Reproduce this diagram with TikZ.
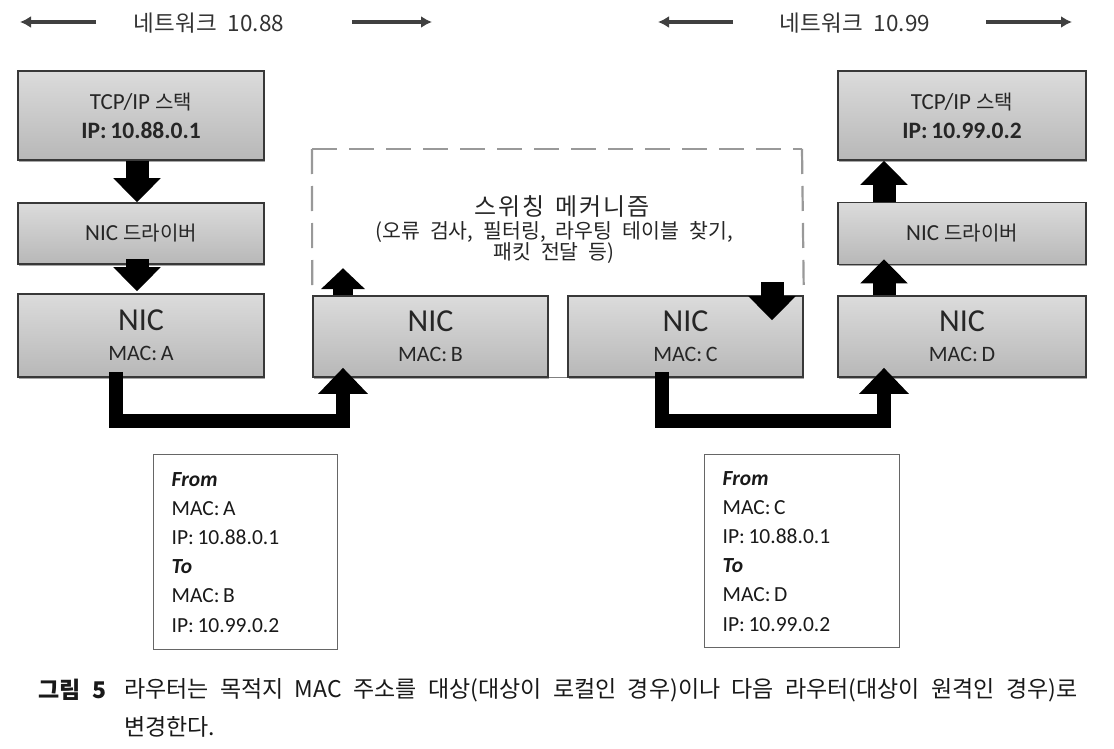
\documentclass[tikz,border=0pt]{standalone}
\usepackage{fontspec}
\setmainfont{Carlito}
\newfontfamily\kr{Noto Sans CJK KR}
\newfontfamily\krw[WordSpace=2.2]{Noto Sans CJK KR}
\newfontfamily\krt[LetterSpace=8,WordSpace=1.5]{Noto Sans CJK KR}
\usetikzlibrary{arrows.meta,calc,shadows}
\tikzset{
  gbox/.style={draw=black!78, line width=1.6pt, top color=black!14, bottom color=black!28,
    inner sep=0pt, align=center, text=black!85,
    drop shadow={shadow xshift=1.2pt, shadow yshift=-1.6pt, opacity=0.35, fill=black}},
  stackbox/.style={gbox, font=\fontsize{23}{29}\selectfont},
  nicbox/.style={gbox, font=\fontsize{22}{30}\selectfont},
  infobox/.style={draw=black!60, line width=1.4pt, fill=white, anchor=north west,
    inner xsep=18pt, inner ysep=0pt, align=left, text=black!90,
    font=\fontsize{21.5}{29.2}\selectfont},
  fatarrow/.style={black, line width=23pt, -{Triangle[width=46pt,length=24pt]}},
  smallarrow/.style={black, line width=20pt, -{Triangle[width=43pt,length=21pt]}},
  elbowarrow/.style={black, line width=14pt, line join=miter, -{Triangle[width=48pt,length=26pt]}},
  hdrarrow/.style={black!75, line width=4pt, -{Latex[length=11pt,width=12pt]}},
  dashline/.style={black!40, line width=2.2pt, dash pattern=on 25pt off 12pt},
  hdrtext/.style={text=black!80, font=\kr\fontsize{22.5}{26}\selectfont},
  captext/.style={anchor=west, inner sep=0pt, text=black!90, font=\kr\fontsize{23}{28}\selectfont},
}
\begin{document}
\begin{tikzpicture}[x=1pt,y=-1pt]
\useasboundingbox (0,0) rectangle (1114,749);
\fill[white] (0,0) rectangle (1114,749);

% header
\node[hdrtext] (net1) at (209,23) {네트워크 10.88};
\node[hdrtext] (net2) at (855,23) {네트워크 10.99};
\coordinate (h1a) at (96,22);  \coordinate (h1b) at (20,22);
\coordinate (h2a) at (352,22); \coordinate (h2b) at (432,22);
\coordinate (h3a) at (733,22); \coordinate (h3b) at (658,22);
\coordinate (h4a) at (986,22); \coordinate (h4b) at (1072,22);
\draw[hdrarrow] (h1a) -- (h1b);
\draw[hdrarrow] (h2a) -- (h2b);
\draw[hdrarrow] (h3a) -- (h3b);
\draw[hdrarrow] (h4a) -- (h4b);

% dashed switching area
\coordinate (dTL) at (312,149);
\coordinate (dTR) at (802,149);

% boxes
\node[stackbox, minimum width=246pt, minimum height=89pt] (tcpL) at (141,115.5)
  {TCP/IP {\kr\fontsize{20}{22}\selectfont 스택}\\
   {\fontsize{23.5}{29}\selectfont\bfseries IP:\,10.88.0.1}};
\node[stackbox, minimum width=246pt, minimum height=61pt] (drvL) at (141,233.5)
  {NIC {\kr\fontsize{20}{22}\selectfont 드라이버}};
\node[nicbox, minimum width=246pt, minimum height=83pt] (nicA) at (141,335.5)
  {{\fontsize{32}{32}\selectfont NIC}\\ MAC:\,A};
\node[nicbox, minimum width=235pt, minimum height=81pt] (nicB) at (430.5,336.5)
  {{\fontsize{32}{32}\selectfont NIC}\\ MAC:\,B};
\node[nicbox, minimum width=235pt, minimum height=81pt] (nicC) at (685.5,336.5)
  {{\fontsize{32}{32}\selectfont NIC}\\ MAC:\,C};
\node[nicbox, minimum width=248pt, minimum height=81pt] (nicD) at (962,336.5)
  {{\fontsize{32}{32}\selectfont NIC}\\ MAC:\,D};
\node[stackbox, minimum width=248pt, minimum height=62pt] (drvR) at (962,233.5)
  {NIC {\kr\fontsize{20}{22}\selectfont 드라이버}};
\node[stackbox, minimum width=248pt, minimum height=89pt] (tcpR) at (962,115.5)
  {TCP/IP {\kr\fontsize{20}{22}\selectfont 스택}\\
   {\fontsize{23.5}{29}\selectfont\bfseries IP:\,10.99.0.2}};

\draw[dashline] (dTL) -- (dTR);
\draw[dashline] (dTL) -- (nicB.north west);
\draw[dashline] (dTR) -- (nicC.north east);
\draw[black!50, line width=1pt] (nicB.south east) -- (nicC.south west);

\node[text=black!85, font=\krt\fontsize{24}{26}\selectfont] (swt) at (562,207) {스위칭 메커니즘};
\node[text=black!85, align=center, font=\krw\fontsize{20.5}{21}\selectfont] (swd) at (554,242)
  {(오류 검사, 필터링, 라우팅 테이블 찾기,\\ 패킷 전달 등)};

% arrows
\coordinate (xl) at (137,0);
\coordinate (xr) at (884,0);
\coordinate (xa) at (116,0);
\coordinate (xb) at (343,0);
\coordinate (xc) at (662,0);
\coordinate (xd) at (772,0);
\draw[fatarrow] (tcpL.south -| xl) -- (drvL.north -| xl);
\draw[fatarrow] ($(drvL.south -| xl)+(0,-6)$) -- ($(nicA.north -| xl)+(0,-2)$);
\draw[fatarrow] (drvR.north -| xr) -- (tcpR.south -| xr);
\draw[fatarrow] (nicD.north -| xr) -- ($(drvR.south -| xr)+(0,-6)$);
\draw[smallarrow] (nicB.north -| xb) -- ++(0,-27);
\coordinate (cTop) at (772,282);
\draw[fatarrow] (cTop) -- ($(nicC.north -| xd)+(0,25)$);
\draw[elbowarrow] ($(nicA.south -| xa)+(0,-6)$) -- ++(0,49) -| ($(nicB.south -| xb)+(0,-10)$);
\draw[elbowarrow] ($(nicC.south -| xc)+(0,-6)$) -- ++(0,49) -| ($(nicD.south -| xr)+(0,-10)$);

% info boxes
\node[infobox, minimum width=184pt, minimum height=195pt, text width=148pt] (infoL) at (153,454)
  {\textbf{\textit{From}}\\ MAC:\,A\\ IP:\,10.88.0.1\\ \textbf{\textit{To}}\\ MAC:\,B\\ IP:\,10.99.0.2};
\node[infobox, minimum width=195pt, minimum height=193pt, text width=159pt] (infoR) at (704,454)
  {\textbf{\textit{From}}\\ MAC:\,C\\ IP:\,10.88.0.1\\ \textbf{\textit{To}}\\ MAC:\,D\\ IP:\,10.99.0.2};

% caption
\node[captext, font=\kr\bfseries\fontsize{23}{28}\selectfont] (capn) at (38,690) {그림 5};
\node[captext] (cap1) at (124,690)
  {라우터는 목적지 MAC 주소를 대상(대상이 로컬인 경우)이나 다음 라우터(대상이 원격인 경우)로};
\node[captext] (cap2) at (124,727) {변경한다.};
\end{tikzpicture}
\end{document}
